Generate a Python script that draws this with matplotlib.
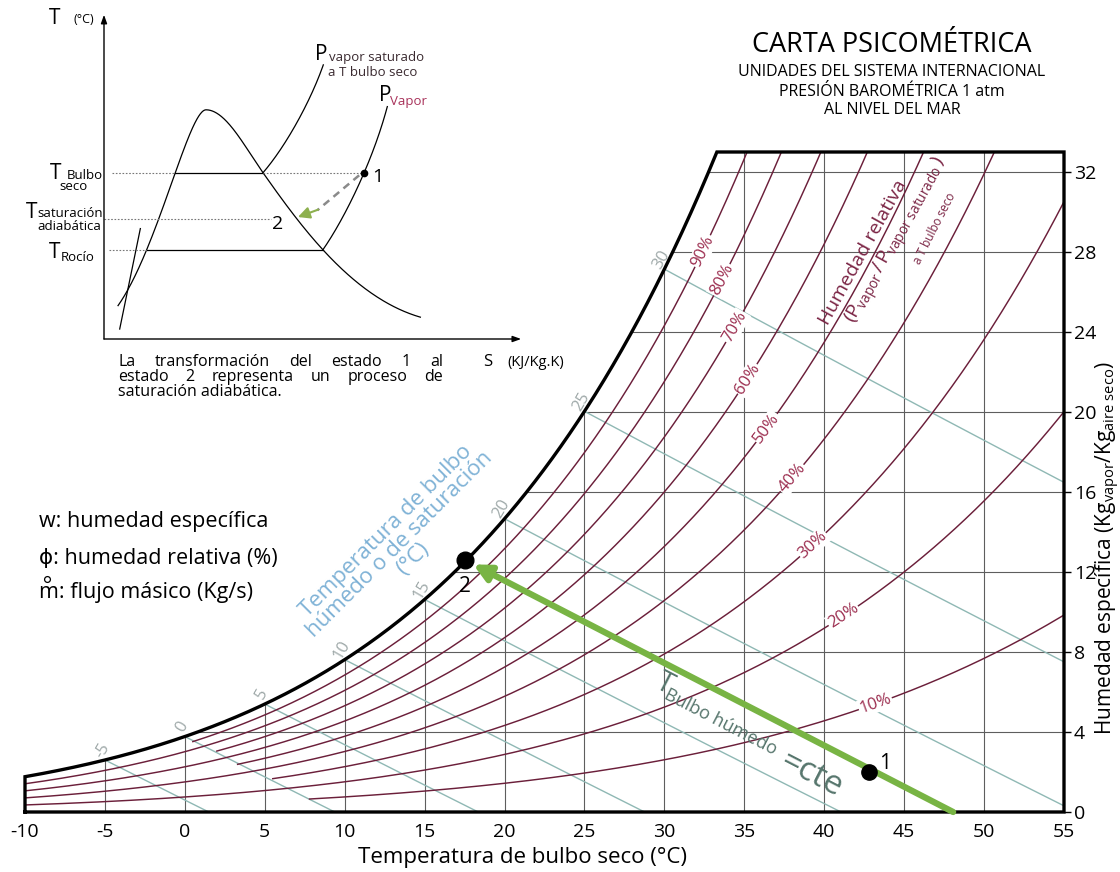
import numpy as np
import matplotlib
matplotlib.use("Agg")
import matplotlib.pyplot as plt
from matplotlib.lines import Line2D

plt.rcParams["font.family"] = ["Open Sans", "DejaVu Sans"]
plt.rcParams["mathtext.fontset"] = "custom"
plt.rcParams["mathtext.rm"] = "Open Sans"
plt.rcParams["mathtext.it"] = "Open Sans:italic"
plt.rcParams["mathtext.bf"] = "Open Sans:bold"
plt.rcParams["axes.unicode_minus"] = False

# ---------------- chart data ----------------
T_MIN, T_MAX = -10, 55          # dry-bulb range (°C)
W_TOP = 33                      # top of chart (g vapour / kg dry air)
P_ATM = 101.325                 # barometric pressure (kPa)

x_ticks = [-10, -5, 0, 5, 10, 15, 20, 25, 30, 35, 40, 45, 50, 55]
x_tick_labels = ["-10", "-5", "0", "5", "10", "15", "20", "25", "30",
                 "35", "40", "45", "50", "55"]
y_ticks = [0, 4, 8, 12, 16, 20, 24, 28, 32]
y_tick_labels = ["0", "4", "8", "12", "16", "20", "24", "28", "32"]

rh_levels = [10, 20, 30, 40, 50, 60, 70, 80, 90]               # %
rh_start_t = [7.8, -10, 5.5, -10, 3.3, -10, 2.0, -10, 0.5]      # °C
rh_label_t = [43.2, 41.2, 39.3, 38.0, 36.4, 35.2, 34.4, 33.6, 32.4]
wb_levels = [-5, 0, 5, 10, 15, 20, 25, 30]                      # °C

state_1 = (42.8, 2.0)
state_2 = (17.5, 12.6)
wb_process = 17.5

# colours
C_RH = "#6b1f3a"
C_RH_TXT = "#9b2c4e"
C_WB = "#8fb8b4"
C_WB_TXT = "#9fa9a9"
C_WB_TITLE = "#7fb2d6"
C_GRID = "#5e5e5e"
C_GREEN = "#78b444"


# ---------------- psychrometric relations ----------------
def p_sat(t):
    t = np.asarray(t, float)
    return 0.61094 * np.exp(17.625 * t / (t + 243.04))


def w_from_pv(pv):
    return 622.0 * pv / (P_ATM - pv)


def w_sat(t):
    return w_from_pv(p_sat(t))


def w_rh(t, rh):
    return w_from_pv(rh / 100.0 * p_sat(t))


def t_dew(w):
    pv = w * P_ATM / (622.0 + w)
    a = np.log(pv / 0.61094)
    return 243.04 * a / (17.625 - a)


def w_wetbulb(t, twb):
    ws = w_sat(twb) / 1000.0
    return 1000.0 * ((2501 - 2.326 * twb) * ws - 1.006 * (t - twb)) / \
        (2501 + 1.86 * t - 4.186 * twb)


def t_wb_end(twb):
    ws = w_sat(twb) / 1000.0
    return twb + (2501 - 2.326 * twb) * ws / 1.006


# ---------------- figure ----------------
W_PX, H_PX = 1120, 872
fig = plt.figure(figsize=(W_PX / 100, H_PX / 100), dpi=100)
fig.patch.set_facecolor("white")


def fx(x):
    return x / W_PX


def fy(y):
    return 1 - y / H_PX


ax = fig.add_axes([fx(25), fy(812), fx(1064) - fx(25), fy(152) - fy(812)])
ax.set_xlim(T_MIN, T_MAX)
ax.set_ylim(0, W_TOP)
for sp in ax.spines.values():
    sp.set_visible(False)

# outline: saturation curve and frame
t_top = float(t_dew(W_TOP))
t_s = np.linspace(T_MIN, t_top, 400)
bx = np.concatenate([[T_MIN], t_s, [T_MAX, T_MAX, T_MIN]])
by = np.concatenate([[0], w_sat(t_s), [W_TOP, 0, 0]])
ax.plot(bx, by, color="k", lw=2.4, solid_joinstyle="miter", clip_on=False,
        zorder=6)

# grid restricted to the unsaturated region
for t in x_ticks[1:-1]:
    ax.plot([t, t], [0, min(float(w_sat(t)), W_TOP)], color=C_GRID, lw=0.8,
            zorder=1)
for w in y_ticks[1:]:
    ax.plot([float(t_dew(w)), T_MAX], [w, w], color=C_GRID, lw=0.8, zorder=1)

# wet-bulb lines
for twb in wb_levels:
    t_end = min(t_wb_end(twb), T_MAX)
    tt = np.linspace(twb, t_end, 200)
    ax.plot(tt, w_wetbulb(tt, twb), color=C_WB, lw=1.0, zorder=2)
    ax.annotate(str(twb), xy=(twb, float(w_sat(twb))), xytext=(-2, 7),
                textcoords="offset points", rotation=60, ha="center",
                va="center", fontsize=12, color=C_WB_TXT, zorder=4)

# relative-humidity curves
for rh, ts in zip(rh_levels, rh_start_t):
    tt = np.linspace(ts, T_MAX, 800)
    ax.plot(tt, w_rh(tt, rh), color=C_RH, lw=1.05, zorder=3)

for rh, tl in zip(rh_levels, rh_label_t):
    p1 = ax.transData.transform((tl - 0.3, float(w_rh(tl - 0.3, rh))))
    p2 = ax.transData.transform((tl + 0.3, float(w_rh(tl + 0.3, rh))))
    ang = np.degrees(np.arctan2(p2[1] - p1[1], p2[0] - p1[0]))
    ax.text(tl, float(w_rh(tl, rh)), f"{rh}%", rotation=ang,
            rotation_mode="anchor", ha="center", va="center", fontsize=12,
            color=C_RH_TXT, zorder=4,
            bbox=dict(boxstyle="square,pad=0.06", fc="white", ec="none"))

# adiabatic saturation process 1 -> 2
t0 = t_wb_end(wb_process)
ax.annotate("", xy=state_2, xytext=(t0, 0),
            arrowprops=dict(arrowstyle="-|>,head_length=1.0,head_width=0.5",
                            color=C_GREEN, lw=4.5, shrinkA=0, shrinkB=7),
            zorder=7, annotation_clip=False)
ax.plot(*state_1, "o", ms=11, color="k", zorder=8)
ax.plot(*state_2, "o", ms=12, color="k", zorder=8)
ax.annotate("1", xy=state_1, xytext=(7, 6), textcoords="offset points",
            fontsize=15, ha="left", va="center", zorder=8)
ax.annotate("2", xy=state_2, xytext=(0, -19), textcoords="offset points",
            fontsize=15, ha="center", va="center", zorder=8)

pa = ax.transData.transform((t0, 0))
pb = ax.transData.transform(state_2)
ang_g = np.degrees(np.arctan2(pb[1] - pa[1], pb[0] - pa[0])) - 180
C_CTE = "#56756c"
ax.text(30.0, 6.4, "T", rotation=ang_g, ha="center", va="center",
        fontsize=21, color=C_CTE, rotation_mode="anchor", zorder=5)
ax.text(33.5, 4.5, "Bulbo húmedo", rotation=ang_g, ha="center", va="center",
        fontsize=13, color=C_CTE, rotation_mode="anchor", zorder=5)
ax.text(39.2, 1.9, "=cte", rotation=ang_g, ha="center", va="center",
        fontsize=24, color=C_CTE, rotation_mode="anchor", zorder=5)

# titles of the curve families
ax.text(13.44, 13.35, "Temperatura de bulbo\nhúmedo o de saturación\n(°C)",
        rotation=45, ha="center", va="center", multialignment="center",
        fontsize=16, color=C_WB_TITLE, linespacing=0.9,
        rotation_mode="anchor", zorder=4)
C_HR = "#7a2444"
ax.text(42.4, 28.0, "Humedad relativa", rotation=61, ha="center",
        va="center", fontsize=14, color=C_HR, rotation_mode="anchor",
        zorder=4)
ax.text(44.6, 28.55,
        r"$(\mathrm{P}_{\mathrm{vapor}}\,/\,\mathrm{P}_{\mathrm{vapor\ saturado}}\,)$",
        rotation=61, ha="center", va="center", fontsize=14, color=C_HR,
        rotation_mode="anchor", zorder=4)
ax.text(46.9, 29.2, "a T bulbo seco", rotation=63, ha="center",
        va="center", fontsize=8.5, color=C_HR, rotation_mode="anchor",
        zorder=4)

# ticks
ax.set_xticks(x_ticks)
ax.set_xticklabels(x_tick_labels)
ax.tick_params(axis="x", length=0, pad=8, labelsize=14)
ax.set_yticks(y_ticks)
ax.set_yticklabels(y_tick_labels)
ax.yaxis.tick_right()
ax.tick_params(axis="y", length=5, width=1, pad=2, labelsize=14,
               direction="out")

fig.text(fx(522), fy(857), "Temperatura de bulbo seco (°C)", ha="center",
         va="center", fontsize=16)
fig.text(fx(1108), fy(548),
         r"Humedad específica (Kg$_{\mathrm{vapor}}$/Kg$_{\mathrm{aire\ seco}}$)",
         rotation=90, ha="center", va="center", fontsize=15)

# title block
fig.text(fx(892), fy(45), "CARTA PSICOMÉTRICA", ha="center", va="center",
         fontsize=19.5)
for txt, yy in [("UNIDADES DEL SISTEMA INTERNACIONAL", 72),
                ("PRESIÓN BAROMÉTRICA 1 atm", 92),
                ("AL NIVEL DEL MAR", 110)]:
    fig.text(fx(892), fy(yy), txt, ha="center", va="center", fontsize=11.5)

# notation
fig.text(fx(39), fy(521), "w: humedad específica", va="center", fontsize=15.5)
fig.text(fx(39), fy(559), "ϕ: humedad relativa (%)", va="center",
         fontsize=15.5)
fig.text(fx(39), fy(592), "m: flujo másico (Kg/s)", va="center",
         fontsize=15.5)
# ring accent over the "m" of mass flow
fig.add_artist(Line2D([fx(47)], [fy(579)], marker="o", ms=4.2,
                      mfc="none", mec="k", mew=0.9, linestyle="none",
                      transform=fig.transFigure))

# ---------------- T-s sketch of the process ----------------
axi = fig.add_axes([fx(104), fy(339), fx(517) - fx(104), fy(18) - fy(339)])
axi.set_xlim(0, 100)
axi.set_ylim(0, 100)
axi.axis("off")

arrow_kw = dict(arrowstyle="-|>,head_length=0.5,head_width=0.18", lw=1.0,
                color="k", shrinkA=0, shrinkB=0)
axi.annotate("", xy=(0, 101), xytext=(0, 0), arrowprops=arrow_kw,
             annotation_clip=False)
axi.annotate("", xy=(101, 0), xytext=(0, 0), arrowprops=arrow_kw,
             annotation_clip=False)


def cubic_pts(ctrl, n=150):
    p = np.asarray(ctrl, float)
    u = np.linspace(0, 1, n)[:, None]
    return ((1 - u) ** 3 * p[0] + 3 * (1 - u) ** 2 * u * p[1]
            + 3 * (1 - u) * u ** 2 * p[2] + u ** 3 * p[3])


dome_left = cubic_pts([(3.4, 10.4), (13, 28), (20.5, 71.4), (24.7, 71.4)])
dome_right = np.vstack([
    cubic_pts([(24.7, 71.4), (29.5, 71.4), (34, 60), (38.5, 51.8)]),
    cubic_pts([(38.5, 51.8), (47.5, 35.4), (60, 13), (76.6, 6.8)])])
dome = np.vstack([dome_left, dome_right])
axi.plot(dome[:, 0], dome[:, 1], color="k", lw=0.9)
axi.plot([3.8, 8.8], [3.1, 34.4], color="k", lw=0.9)


def s_left(T):
    return float(np.interp(T, dome_left[:, 1], dome_left[:, 0]))


def s_right(T):
    return float(np.interp(T, dome_right[::-1, 1], dome_right[::-1, 0]))


T_BS, T_AS, T_DEW = 51.8, 37.5, 27.8

pvs = cubic_pts([(s_right(T_BS), T_BS), (44, 60), (50, 74), (53.1, 85.4)])
pv = cubic_pts([(s_right(T_DEW), T_DEW), (58, 37), (65, 55), (68.6, 72.4)])
axi.plot(pvs[:, 0], pvs[:, 1], color="k", lw=0.9)
axi.plot(pv[:, 0], pv[:, 1], color="k", lw=0.9)
s1 = float(np.interp(T_BS, pv[:, 1], pv[:, 0]))
s2 = s_right(T_AS)

dot_kw = dict(color="#777777", lw=0.8, linestyle=(0, (1.5, 1.5)))
axi.plot([2, s_left(T_BS)], [T_BS, T_BS], **dot_kw)
axi.plot([s_left(T_BS), s_right(T_BS)], [T_BS, T_BS], color="k", lw=0.9)
axi.plot([s_right(T_BS), s1], [T_BS, T_BS], **dot_kw)
axi.plot([0, 40.5], [T_AS, T_AS], **dot_kw)
axi.plot([1.3, s_left(T_DEW)], [T_DEW, T_DEW], **dot_kw)
axi.plot([s_left(T_DEW), s_right(T_DEW)], [T_DEW, T_DEW], color="k", lw=0.9)

axi.plot(s1, T_BS, "o", ms=4.5, color="k")
axi.plot([s1 - 1.2, s2 + 5.0], [T_BS - 0.8, T_AS + 2.6], color="#8a8a8a",
         lw=1.8, linestyle=(0, (3, 2.2)))
axi.annotate("", xy=(s2 + 0.3, T_AS + 0.5), xytext=(s2 + 5.2, T_AS + 2.8),
             arrowprops=dict(arrowstyle="-|>,head_length=0.7,head_width=0.35",
                             color="#8db04e", lw=1.5, shrinkA=0, shrinkB=0))
axi.text(s1 + 2.0, T_BS - 1.4, "1", fontsize=14, ha="left", va="center")
axi.text(42.1, 35.7, "2", fontsize=14, ha="center", va="center")

lab = dict(ha="center", va="center", clip_on=False)
axi.text(-11.7, 51.6, "T", fontsize=15, **lab)
axi.text(-4.6, 51.0, "Bulbo", fontsize=9.5, **lab)
axi.text(-7.4, 47.6, "seco", fontsize=9.5, **lab)
axi.text(-17.5, 39.4, "T", fontsize=15, **lab)
axi.text(-8.3, 39.2, "saturación", fontsize=9.5, **lab)
axi.text(-8.4, 35.2, "adiabática", fontsize=9.5, **lab)
axi.text(-12.0, 27.1, "T", fontsize=15, **lab)
axi.text(-6.4, 25.5, "Rocío", fontsize=9.5, **lab)
axi.text(-12.0, 100.0, "T", fontsize=15, **lab)
axi.text(-4.8, 99.5, "(°C)", fontsize=9, **lab)
axi.text(52.7, 88.5, "P", fontsize=15, **lab)
axi.text(65.9, 87.8, "vapor saturado", fontsize=9.5, color="#3a2a30", **lab)
axi.text(65.0, 83.1, "a T bulbo seco", fontsize=9.5, color="#3a2a30", **lab)
axi.text(68.2, 76.0, "P", fontsize=15, **lab)
axi.text(73.8, 74.0, "Vapor", fontsize=9.5, color="#a8325a", **lab)
axi.text(93.0, -7.2, "S", fontsize=12, **lab)
axi.text(104.5, -7.2, "(KJ/Kg.K)", fontsize=10.5, **lab)

# justified caption under the sketch
renderer = fig.canvas.get_renderer()


def justified(words, x0, x1, y, size):
    objs = [fig.text(0, fy(y), w_, fontsize=size, va="center", ha="left")
            for w_ in words]
    widths = [o.get_window_extent(renderer).width for o in objs]
    gap = (x1 - x0 - sum(widths)) / max(len(words) - 1, 1)
    x = x0
    for o, wd in zip(objs, widths):
        o.set_x(fx(x))
        x += wd + gap


justified("La transformación del estado 1 al".split(), 118, 443, 362, 11.5)
justified("estado 2 representa un proceso de".split(), 118, 443, 377, 11.5)
fig.text(fx(118), fy(392), "saturación adiabática.", fontsize=11.5,
         va="center", ha="left")

fig.savefig("out.png", dpi=100, facecolor="white")
